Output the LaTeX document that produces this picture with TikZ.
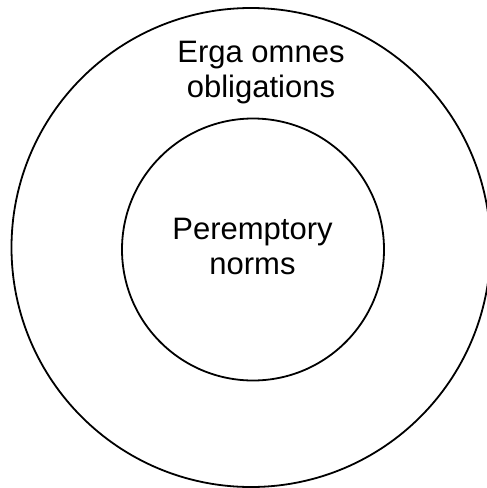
\documentclass[tikz,border=0pt]{standalone}
\usepackage{fontspec}
\setmainfont{Liberation Sans}
\begin{document}
\begin{tikzpicture}[x=1pt,y=-1pt,
  ring/.style={draw=black,line width=1.8pt,circle,minimum size=#1,inner sep=0pt},
  label/.style={align=center,inner sep=0pt,font=\fontsize{31}{35}\selectfont}]
\useasboundingbox (0,0) rectangle (487,488);
\begin{scope}
\clip (0,0) rectangle (487,488);
\node[ring=479pt] (outer) at (251,247.5) {};
\end{scope}
\node[ring=262pt] (inner) at (253,249.5) {};
\node[label] (erga) at (261,73) {Erga omnes\\obligations};
\node[label] (peremp) at (252.5,246) {Peremptory\\norms};
\end{tikzpicture}
\end{document}
